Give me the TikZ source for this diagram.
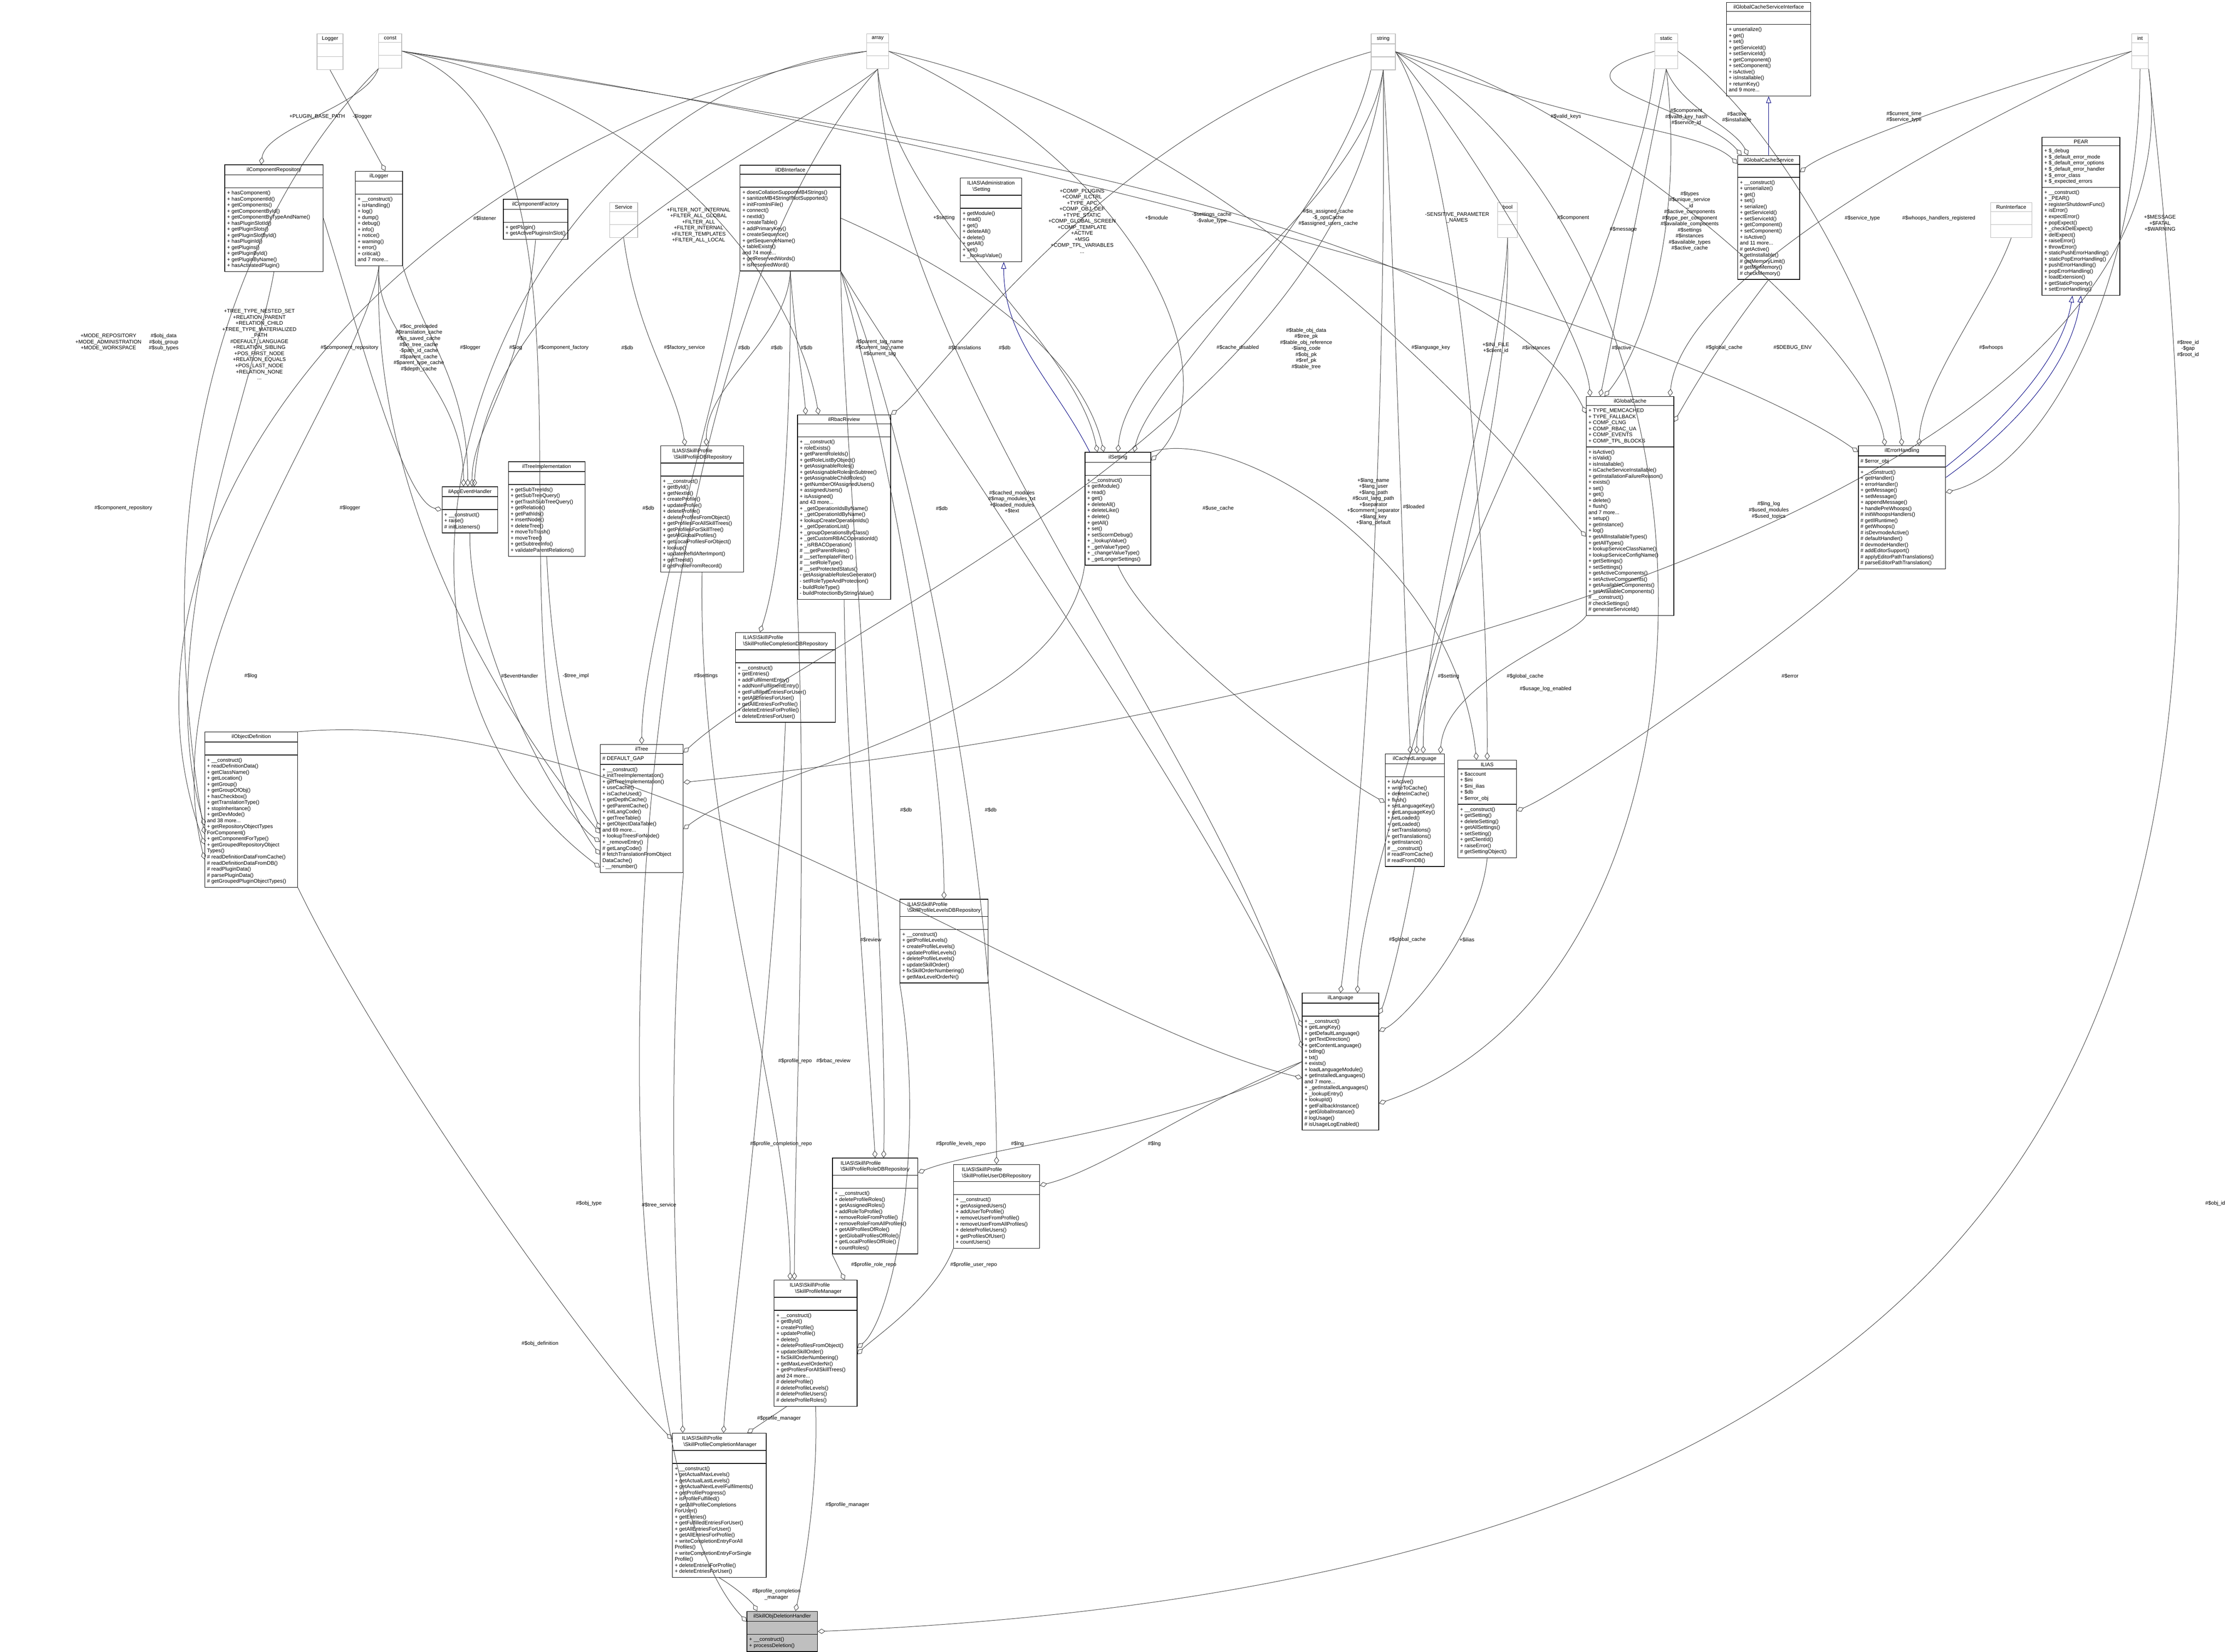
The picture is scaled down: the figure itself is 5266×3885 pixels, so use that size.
\documentclass[tikz,border=0pt]{standalone}
\usepackage{fontspec}
\setmainfont{Liberation Sans}
\usetikzlibrary{arrows.meta,shapes.multipart,calc}

\newcommand{\mlist}[1]{\begin{tabular}{@{}l@{}}#1\end{tabular}}
\newcommand{\dfont}{\fontsize{3.5}{4.05}\selectfont}

\tikzset{
  cls/.style={rectangle split, rectangle split parts=3, draw=black, line width=0.4pt,
              rectangle split part align={center,left,left},
              rectangle split empty part height=4pt, inner sep=1.5pt,
              font=\dfont, anchor=north west, minimum width=#1cm},
  prim/.style={rectangle split, rectangle split parts=3, draw=gray!55,
               rectangle split empty part height=4pt, inner sep=1.5pt,
               font=\dfont, anchor=north west, minimum width=#1cm},
  agg/.style={draw=black!75, line width=0.3pt,
              -{Diamond[open,length=5pt,width=3.4pt]}},
  inh/.style={draw=blue!50!black, line width=0.3pt,
              -{Triangle[open,length=4.5pt,width=3.4pt]}},
  lbl/.style={font=\dfont, align=center, inner sep=0pt}
}

\begin{document}
\begin{tikzpicture}[x=0.01cm,y=-0.01cm]
  \useasboundingbox (0,0) rectangle (5266,3885);

  % plain types
  \node[prim=0.61] (logger)  at (745,79)  {Logger\nodepart{second}\nodepart{third}};
  \node[prim=0.54] (const)   at (890,79)  {const\nodepart{second}\nodepart{third}};
  \node[prim=0.51] (array)   at (2038,79) {array\nodepart{second}\nodepart{third}};
  \node[prim=0.57] (string)  at (3224,79) {string\nodepart{second}\nodepart{third}};
  \node[prim=0.54] (static)  at (3891,79) {static\nodepart{second}\nodepart{third}};
  \node[prim=0.39] (int)     at (5013,79) {int\nodepart{second}\nodepart{third}};
  \node[prim=0.46] (bool)    at (3522,476) {bool\nodepart{second}\nodepart{third}};
  \node[prim=0.66] (service) at (1433,476) {Service\nodepart{second}\nodepart{third}};
  \node[prim=0.97] (runif)   at (4681,476) {RunInterface\nodepart{second}\nodepart{third}};

  % classes
  \node[cls=1.98] (glsvcif) at (4060,5) {ilGlobalCacheServiceInterface\nodepart{second}\nodepart{third}\mlist{+ unserialize()\\+ get()\\+ set()\\+ getServiceId()\\+ setServiceId()\\+ getComponent()\\+ setComponent()\\+ isActive()\\+ isInstallable()\\+ returnKey()\\and 9 more...}};
  \node[cls=1.46] (glsvc) at (4086,365) {ilGlobalCacheService\nodepart{second}\nodepart{third}\mlist{+ \_\_construct()\\+ unserialize()\\+ get()\\+ set()\\+ serialize()\\+ getServiceId()\\+ setServiceId()\\+ getComponent()\\+ setComponent()\\+ isActive()\\and 11 more...\\\# getActive()\\\# getInstallable()\\\# getMemoryLimit()\\\# getMinMemory()\\\# checkMemory()}};
  \node[cls=1.83] (pear) at (4802,322) {PEAR\nodepart{second}\mlist{+ \$\_debug\\+ \$\_default\_error\_mode\\+ \$\_default\_error\_options\\+ \$\_default\_error\_handler\\+ \$\_error\_class\\+ \$\_expected\_errors}\nodepart{third}\mlist{+ \_\_construct()\\+ \_PEAR()\\+ registerShutdownFunc()\\+ isError()\\+ expectError()\\+ popExpect()\\+ \_checkDelExpect()\\+ delExpect()\\+ raiseError()\\+ throwError()\\+ staticPushErrorHandling()\\+ staticPopErrorHandling()\\+ pushErrorHandling()\\+ popErrorHandling()\\+ loadExtension()\\+ getStaticProperty()\\+ setErrorHandling()}};
  \node[cls=2.06] (glcache) at (3730,932) {ilGlobalCache\nodepart{second}\mlist{+ TYPE\_MEMCACHED\\+ TYPE\_FALLBACK\\+ COMP\_CLNG\\+ COMP\_RBAC\_UA\\+ COMP\_EVENTS\\+ COMP\_TPL\_BLOCKS}\nodepart{third}\mlist{+ isActive()\\+ isValid()\\+ isInstallable()\\+ isCacheServiceInstallable()\\+ getInstallationFailureReason()\\+ exists()\\+ set()\\+ get()\\+ delete()\\+ flush()\\and 7 more...\\+ setup()\\+ getInstance()\\+ log()\\+ getAllInstallableTypes()\\+ getAllTypes()\\+ lookupServiceClassName()\\+ lookupServiceConfigName()\\+ getSettings()\\+ setSettings()\\+ getActiveComponents()\\+ setActiveComponents()\\+ getAvailableComponents()\\+ setAvailableComponents()\\\# \_\_construct()\\\# checkSettings()\\\# generateServiceId()}};
  \node[cls=2.05] (errh) at (4370,1048) {ilErrorHandling\nodepart{second}\mlist{\# \$error\_obj}\nodepart{third}\mlist{+ \_\_construct()\\+ getHandler()\\+ errorHandler()\\+ getMessage()\\+ setMessage()\\+ appendMessage()\\+ handlePreWhoops()\\\# initWhoopsHandlers()\\\# getIlRuntime()\\\# getWhoops()\\\# isDevmodeActive()\\\# defaultHandler()\\\# devmodeHandler()\\\# addEditorSupport()\\\# applyEditorPathTranslations()\\\# parseEditorPathTranslation()}};
  \node[cls=2.31] (comprepo) at (528,387) {ilComponentRepository\nodepart{second}\nodepart{third}\mlist{+ hasComponent()\\+ hasComponentId()\\+ getComponents()\\+ getComponentById()\\+ getComponentByTypeAndName()\\+ hasPluginSlotId()\\+ getPluginSlots()\\+ getPluginSlotById()\\+ hasPluginId()\\+ getPlugins()\\+ getPluginById()\\+ getPluginByName()\\+ hasActivatedPlugin()}};
  \node[cls=1.11] (ilogger) at (835,402) {ilLogger\nodepart{second}\nodepart{third}\mlist{+ \_\_construct()\\+ isHandling()\\+ log()\\+ dump()\\+ debug()\\+ info()\\+ notice()\\+ warning()\\+ error()\\+ critical()\\and 7 more...}};
  \node[cls=0.94] (compfact) at (1183,468) {ilComponentFactory\nodepart{second}\nodepart{third}\mlist{+ getPlugin()\\+ getActivePluginsInSlot()}};
  \node[cls=2.36] (dbi) at (1740,388) {ilDBInterface\nodepart{second}\nodepart{third}\mlist{+ doesCollationSupportMB4Strings()\\+ sanitizeMB4StringIfNotSupported()\\+ initFromIniFile()\\+ connect()\\+ nextId()\\+ createTable()\\+ addPrimaryKey()\\+ createSequence()\\+ getSequenceName()\\+ tableExists()\\and 74 more...\\+ getReservedWords()\\+ isReservedWord()}};
  \node[cls=1.44] (admset) at (2258,418) {\mlist{ILIAS\textbackslash Administration\\\quad\textbackslash Setting}\nodepart{second}\nodepart{third}\mlist{+ getModule()\\+ read()\\+ get()\\+ deleteAll()\\+ delete()\\+ getAll()\\+ set()\\+ \_lookupValue()}};
  \node[cls=2.19] (rbac) at (1875,975) {ilRbacReview\nodepart{second}\nodepart{third}\mlist{+ \_\_construct()\\+ roleExists()\\+ getParentRoleIds()\\+ getRoleListByObject()\\+ getAssignableRoles()\\+ getAssignableRolesInSubtree()\\+ getAssignableChildRoles()\\+ getNumberOfAssignedUsers()\\+ assignedUsers()\\+ isAssigned()\\and 43 more...\\+ \_getOperationIdsByName()\\+ \_getOperationIdByName()\\+ lookupCreateOperationIds()\\+ \_getOperationList()\\+ \_groupOperationsByClass()\\+ \_getCustomRBACOperationId()\\+ \_isRBACOperation()\\\# \_\_getParentRoles()\\\# \_\_setTemplateFilter()\\\# \_\_setRoleType()\\\# \_\_setProtectedStatus()\\- getAssignableRolesGenerator()\\- setRoleTypeAndProtection()\\- buildRoleType()\\- buildProtectionByStringValue()}};
  \node[cls=1.55] (setting) at (2551,1063) {ilSetting\nodepart{second}\nodepart{third}\mlist{+ \_\_construct()\\+ getModule()\\+ read()\\+ get()\\+ deleteAll()\\+ deleteLike()\\+ delete()\\+ getAll()\\+ set()\\+ setScormDebug()\\+ \_lookupValue()\\+ \_getValueType()\\+ \_changeValueType()\\+ \_getLongerSettings()}};
  \node[cls=1.31] (appevent) at (1039,1144) {ilAppEventHandler\nodepart{second}\nodepart{third}\mlist{+ \_\_construct()\\+ raise()\\\# initListeners()}};
  \node[cls=1.80] (treeimpl) at (1195,1085) {ilTreeImplementation\nodepart{second}\nodepart{third}\mlist{+ getSubTreeIds()\\+ getSubTreeQuery()\\+ getTrashSubTreeQuery()\\+ getRelation()\\+ getPathIds()\\+ insertNode()\\+ deleteTree()\\+ moveToTrash()\\+ moveTree()\\+ getSubtreeInfo()\\+ validateParentRelations()}};
  \node[cls=1.95] (profrepo) at (1553,1048) {\mlist{ILIAS\textbackslash Skill\textbackslash Profile\\\ \textbackslash SkillProfileDBRepository}\nodepart{second}\nodepart{third}\mlist{+ \_\_construct()\\+ getById()\\+ getNextId()\\+ createProfile()\\+ updateProfile()\\+ deleteProfile()\\+ deleteProfilesFromObject()\\+ getProfilesForAllSkillTrees()\\+ getProfilesForSkillTree()\\+ getAllGlobalProfiles()\\+ getLocalProfilesForObject()\\+ lookup()\\+ updateRefIdAfterImport()\\+ getTreeId()\\\# getProfileFromRecord()}};
  \node[cls=2.35] (complrepo) at (1729,1487) {\mlist{ILIAS\textbackslash Skill\textbackslash Profile\\\textbackslash SkillProfileCompletionDBRepository}\nodepart{second}\nodepart{third}\mlist{+ \_\_construct()\\+ getEntries()\\+ addFulfilmentEntry()\\+ addNonFulfilmentEntry()\\+ getFulfilledEntriesForUser()\\+ getAllEntriesForUser()\\+ getAllEntriesForProfile()\\+ deleteEntriesForProfile()\\+ deleteEntriesForUser()}};
  \node[cls=2.18] (objdef) at (481,1721) {ilObjectDefinition\nodepart{second}\nodepart{third}\mlist{+ \_\_construct()\\+ readDefinitionData()\\+ getClassName()\\+ getLocation()\\+ getGroup()\\+ getGroupOfObj()\\+ hasCheckbox()\\+ getTranslationType()\\+ stopInheritance()\\+ getDevMode()\\and 38 more...\\+ getRepositoryObjectTypes\\ForComponent()\\+ getComponentForType()\\+ getGroupedRepositoryObject\\Types()\\\# readDefinitionDataFromCache()\\\# readDefinitionDataFromDB()\\\# readPluginData()\\\# parsePluginData()\\\# getGroupedPluginObjectTypes()}};
  \node[cls=1.95] (tree) at (1411,1750) {ilTree\nodepart{second}\mlist{\# DEFAULT\_GAP}\nodepart{third}\mlist{+ \_\_construct()\\+ initTreeImplementation()\\+ getTreeImplementation()\\+ useCache()\\+ isCacheUsed()\\+ getDepthCache()\\+ getParentCache()\\+ initLangCode()\\+ getTreeTable()\\+ getObjectDataTable()\\and 69 more...\\+ lookupTreesForNode()\\+ \_removeEntry()\\\# getLangCode()\\\# fetchTranslationFromObject\\DataCache()\\- \_\_renumber()}};
  \node[cls=1.39] (cachedlang) at (3257,1772) {ilCachedLanguage\nodepart{second}\nodepart{third}\mlist{+ isActive()\\+ writeToCache()\\+ deleteInCache()\\+ flush()\\+ setLanguageKey()\\+ getLanguageKey()\\+ setLoaded()\\+ getLoaded()\\+ setTranslations()\\+ getTranslations()\\+ getInstance()\\\# \_\_construct()\\\# readFromCache()\\\# readFromDB()}};
  \node[cls=1.38] (ilias) at (3428,1787) {ILIAS\nodepart{second}\mlist{+ \$account\\+ \$ini\\+ \$ini\_ilias\\+ \$db\\+ \$error\_obj}\nodepart{third}\mlist{+ \_\_construct()\\+ getSetting()\\+ deleteSetting()\\+ getAllSettings()\\+ setSetting()\\+ getClientId()\\+ raiseError()\\\# getSettingObject()}};
  \node[cls=2.07] (levelsrepo) at (2116,2114) {\mlist{ILIAS\textbackslash Skill\textbackslash Profile\\\textbackslash SkillProfileLevelsDBRepository}\nodepart{second}\nodepart{third}\mlist{+ \_\_construct()\\+ getProfileLevels()\\+ createProfileLevels()\\+ updateProfileLevels()\\+ deleteProfileLevels()\\+ updateSkillOrder()\\+ fixSkillOrderNumbering()\\+ getMaxLevelOrderNr()}};
  \node[cls=1.80] (lang) at (3062,2335) {ilLanguage\nodepart{second}\nodepart{third}\mlist{+ \_\_construct()\\+ getLangKey()\\+ getDefaultLanguage()\\+ getTextDirection()\\+ getContentLanguage()\\+ txtlng()\\+ txt()\\+ exists()\\+ loadLanguageModule()\\+ getInstalledLanguages()\\and 7 more...\\+ \_getInstalledLanguages()\\+ \_lookupEntry()\\+ lookupId()\\+ getFallbackInstance()\\+ getGlobalInstance()\\\# logUsage()\\\# isUsageLogEnabled()}};
  \node[cls=2.01] (rolerepo) at (1957,2723) {\mlist{ILIAS\textbackslash Skill\textbackslash Profile\\\textbackslash SkillProfileRoleDBRepository}\nodepart{second}\nodepart{third}\mlist{+ \_\_construct()\\+ deleteProfileRoles()\\+ getAssignedRoles()\\+ addRoleToProfile()\\+ removeRoleFromProfile()\\+ removeRoleFromAllProfiles()\\+ getAllProfilesOfRole()\\+ getGlobalProfilesOfRole()\\+ getLocalProfilesOfRole()\\+ countRoles()}};
  \node[cls=2.02] (userrepo) at (2242,2738) {\mlist{ILIAS\textbackslash Skill\textbackslash Profile\\\textbackslash SkillProfileUserDBRepository}\nodepart{second}\nodepart{third}\mlist{+ \_\_construct()\\+ getAssignedUsers()\\+ addUserToProfile()\\+ removeUserFromProfile()\\+ removeUserFromAllProfiles()\\+ deleteProfileUsers()\\+ getProfilesOfUser()\\+ countUsers()}};
  \node[cls=1.95] (mgr) at (1820,3010) {\mlist{ILIAS\textbackslash Skill\textbackslash Profile\\\quad\textbackslash SkillProfileManager}\nodepart{second}\nodepart{third}\mlist{+ \_\_construct()\\+ getById()\\+ createProfile()\\+ updateProfile()\\+ delete()\\+ deleteProfilesFromObject()\\+ updateSkillOrder()\\+ fixSkillOrderNumbering()\\+ getMaxLevelOrderNr()\\+ getProfilesForAllSkillTrees()\\and 24 more...\\\# deleteProfile()\\\# deleteProfileLevels()\\\# deleteProfileUsers()\\\# deleteProfileRoles()}};
  \node[cls=2.20] (compmgr) at (1581,3370) {\mlist{ILIAS\textbackslash Skill\textbackslash Profile\\\ \textbackslash SkillProfileCompletionManager}\nodepart{second}\nodepart{third}\mlist{+ \_\_construct()\\+ getActualMaxLevels()\\+ getActualLastLevels()\\+ getActualNextLevelFulfilments()\\+ getProfileProgress()\\+ isProfileFulfilled()\\+ getAllProfileCompletions\\ForUser()\\+ getEntries()\\+ getFulfilledEntriesForUser()\\+ getAllEntriesForUser()\\+ getAllEntriesForProfile()\\+ writeCompletionEntryForAll\\Profiles()\\+ writeCompletionEntryForSingle\\Profile()\\+ deleteEntriesForProfile()\\+ deleteEntriesForUser()}};
  \node[cls=1.66, fill=gray!50] (handler) at (1756,3789) {ilSkillObjDeletionHandler\nodepart{second}\nodepart{third}\mlist{+ \_\_construct()\\+ processDeletion()}};

  % inheritance
  \draw[inh] (glsvc.north) -- (glsvcif.south);
  \draw[inh] ($(errh.north east)+(0,50)$) .. controls (4700,1000) and (4850,850) .. ($(pear.south)+(-20,0)$);
  \draw[inh] ($(errh.north east)+(0,75)$) .. controls (4720,1020) and (4870,870) .. ($(pear.south)+(0,0)$);
  \draw[inh] ($(setting.north west)+(12,0)$) .. controls (2480,900) and (2360,800) .. ($(admset.south)+(30,0)$);

  % aggregation, top types
  \draw[agg] (logger.south) -- ($(ilogger.north)+(15,0)$);
  \draw[agg] (const.south west) .. controls (860,250) and (625,300) .. ($(comprepo.north)+(-30,0)$);
  \draw[agg] (const.south west) .. controls (700,350) and (300,900) .. ($(objdef.north west)+(0,240)$);
  \draw[agg] (array.west) .. controls (1000,300) and (200,1200) .. ($(objdef.north west)+(0,265)$);
  \draw[agg] (const.east) .. controls (1500,300) and (1100,1600) .. ($(tree.north west)+(0,260)$);
  \draw[agg] (array.west) .. controls (1200,200) and (700,1500) .. ($(tree.north west)+(0,290)$);
  \draw[agg] (array.south) .. controls (1900,300) and (1150,600) .. ($(appevent.north)+(10,0)$);
  \draw[agg] (const.east) .. controls (1600,250) and (1880,700) .. ($(rbac.north)+(-60,0)$);
  \draw[agg] (string.west) .. controls (2600,300) and (2200,900) .. (rbac.north east);
  \draw[agg] (array.south) .. controls (2100,500) and (2530,800) .. ($(setting.north west)+(30,0)$);
  \draw[agg] (string.south) .. controls (3200,500) and (2650,800) .. ($(setting.north)+(0,0)$);
  \draw[agg] (string.south west) .. controls (3150,500) and (2700,900) .. ($(setting.north east)+(-40,0)$);
  \draw[agg] (array.east) .. controls (2700,400) and (2900,900) .. ($(setting.north east)+(0,20)$);
  \draw[agg] (const.east) .. controls (2000,300) and (3500,500) .. ($(glcache.north west)+(0,40)$);
  \draw[agg] (array.east) .. controls (2900,300) and (3500,1000) .. ($(glcache.north west)+(0,330)$);
  \draw[agg] (string.south) .. controls (3260,900) and (3220,1800) .. ($(lang.north)+(0,0)$);
  \draw[agg] (string.east) .. controls (4110,600) and (4110,2300) .. ($(lang.north east)+(0,260)$);
  \draw[agg] (array.south) .. controls (2100,900) and (2900,1800) .. ($(lang.north west)+(0,130)$);
  \draw[agg] (string.south) .. controls (3280,600) and (3300,1400) .. ($(cachedlang.north)+(-10,0)$);
  \draw[agg] (static.south west) .. controls (3850,600) and (3330,1400) .. ($(cachedlang.north)+(5,0)$);
  \draw[agg] (bool.south) .. controls (3530,900) and (3350,1400) .. ($(cachedlang.north)+(20,0)$);
  \draw[agg] (bool.south) .. controls (3560,1200) and (3200,2000) .. ($(lang.north)+(40,0)$);
  \draw[agg] (string.east) .. controls (3450,400) and (3500,1400) .. (ilias.north);
  \draw[agg] (string.south) .. controls (3150,1000) and (1900,1500) .. ($(tree.north east)+(0,20)$);
  \draw[agg] (string.east) .. controls (3700,300) and (4000,300) .. ($(glsvc.north west)+(0,20)$);
  \draw[agg] (static.west) .. controls (3600,200) and (4000,250) .. ($(glsvc.north west)+(10,0)$);
  \draw[agg] (static.south) .. controls (3950,250) and (4080,300) .. ($(glsvc.north west)+(25,0)$);
  \draw[agg] (int.west) .. controls (4700,200) and (4300,350) .. ($(glsvc.north east)+(0,40)$);
  \draw[agg] (static.south) -- ($(glcache.north)+(-70,0)$);
  \draw[agg] (static.south) .. controls (3960,500) and (3880,800) .. ($(glcache.north)+(-60,0)$);
  \draw[agg] (string.east) .. controls (3500,400) and (3730,800) .. ($(glcache.north west)+(10,0)$);
  \draw[agg] (glsvc.south) .. controls (4050,800) and (3990,900) .. ($(glcache.north east)+(0,60)$);
  \draw[agg] (int.west) .. controls (4400,400) and (3950,700) .. ($(glcache.north east)+(-10,0)$);
  \draw[agg] (string.east) .. controls (3700,200) and (4400,800) .. ($(errh.north)+(-40,0)$);
  \draw[agg] (static.east) .. controls (4200,300) and (4450,800) .. ($(errh.north)+(0,0)$);
  \draw[agg] (runif.south) .. controls (4680,700) and (4520,900) .. ($(errh.north)+(40,0)$);
  \draw[agg] (const.east) .. controls (2500,350) and (4000,800) .. ($(errh.north west)+(0,15)$);
  \draw[agg] (int.south) .. controls (5030,700) and (4800,1100) .. ($(errh.north east)+(0,110)$);
  \draw[agg] (int.south east) .. controls (5200,1200) and (3000,1700) .. ($(tree.north east)+(0,90)$);
  \draw[agg] (int.south east) .. controls (5260,2000) and (5230,3700) .. (handler.east);
  \draw[agg] (array.south) .. controls (1400,900) and (1370,3400) .. ($(handler.north west)+(0,25)$);

  % aggregation, classes
  \draw[agg] (comprepo.south) .. controls (600,900) and (350,1500) .. ($(objdef.north west)+(0,220)$);
  \draw[agg] (comprepo.east) .. controls (850,800) and (950,1180) .. (appevent.west);
  \draw[agg] (ilogger.south) .. controls (850,900) and (350,1500) .. ($(objdef.north west)+(0,300)$);
  \draw[agg] (ilogger.south) .. controls (880,800) and (1090,900) .. ($(appevent.north)+(-15,0)$);
  \draw[agg] (ilogger.south east) .. controls (1000,800) and (1100,900) .. ($(appevent.north)+(-5,0)$);
  \draw[agg] (compfact.south) .. controls (1230,900) and (1110,1000) .. ($(appevent.north)+(5,0)$);
  \draw[agg] (ilogger.south) .. controls (870,1200) and (1200,1700) .. ($(tree.north west)+(0,210)$);
  \draw[agg] (appevent.south) .. controls (1100,1500) and (1300,1900) .. ($(tree.north west)+(0,230)$);
  \draw[agg] (treeimpl.south) .. controls (1300,1600) and (1350,1800) .. ($(tree.north west)+(0,200)$);
  \draw[agg] (dbi.south west) .. controls (1700,900) and (1510,1500) .. ($(tree.north)+(0,0)$);
  \draw[agg] (setting.south west) .. controls (2500,1700) and (1800,1800) .. ($(tree.north east)+(0,200)$);
  \draw[agg] (service.south) .. controls (1500,800) and (1590,900) .. ($(profrepo.north)+(-40,0)$);
  \draw[agg] (dbi.south) .. controls (1850,800) and (1660,900) .. ($(profrepo.north)+(10,0)$);
  \draw[agg] (dbi.south) .. controls (1870,800) and (1890,900) .. ($(rbac.north west)+(20,0)$);
  \draw[agg] (dbi.south) .. controls (1860,900) and (1850,1300) .. ($(complrepo.north)+(-60,0)$);
  \draw[agg] (dbi.south east) .. controls (2050,900) and (2220,1700) .. ($(levelsrepo.north)+(0,0)$);
  \draw[agg] (dbi.south east) .. controls (2100,900) and (2340,1900) .. ($(userrepo.north)+(0,0)$);
  \draw[agg] (dbi.south east) .. controls (1980,1000) and (2090,2200) .. ($(rolerepo.north)+(20,0)$);
  \draw[agg] (dbi.east) .. controls (2400,700) and (2560,900) .. ($(setting.north west)+(45,0)$);
  \draw[agg] (dbi.south east) .. controls (2200,1000) and (2900,2000) .. ($(lang.north west)+(0,80)$);
  \draw[agg] (objdef.north east) .. controls (1500,1650) and (2500,2400) .. ($(lang.north west)+(0,200)$);
  \draw[agg] (rbac.south) .. controls (1990,1800) and (2040,2400) .. ($(rolerepo.north)+(0,0)$);
  \draw[agg] (setting.south) .. controls (2700,1500) and (3100,1800) .. ($(cachedlang.north west)+(0,115)$);
  \draw[agg] (setting.north east) .. controls (2900,1000) and (3420,1300) .. ($(ilias.north)+(-25,0)$);
  \draw[agg] (glcache.south west) .. controls (3700,1500) and (3400,1600) .. ($(cachedlang.north east)+(-10,0)$);
  \draw[agg] (errh.south west) .. controls (4200,1500) and (3700,1850) .. ($(ilias.north east)+(0,120)$);
  \draw[agg] (cachedlang.south) .. controls (3300,2200) and (3260,2350) .. ($(lang.north east)+(0,50)$);
  \draw[agg] (ilias.south) .. controls (3480,2200) and (3300,2400) .. ($(lang.north east)+(0,90)$);
  \draw[agg] (lang.west) .. controls (2800,2650) and (2300,2700) .. ($(rolerepo.north east)+(0,35)$);
  \draw[agg] (lang.west) .. controls (2800,2600) and (2600,2750) .. ($(userrepo.north east)+(0,50)$);
  \draw[agg] (profrepo.south) .. controls (1640,2000) and (1860,2600) .. ($(mgr.north)+(-60,0)$);
  \draw[agg] (rbac.south west) .. controls (1900,2000) and (1870,2600) .. ($(mgr.north)+(-50,0)$);
  \draw[agg] (rolerepo.south west) -- ($(mgr.north east)+(-30,0)$);
  \draw[agg] (levelsrepo.south west) .. controls (2180,2700) and (2100,3100) .. ($(mgr.north east)+(0,160)$);
  \draw[agg] (userrepo.south west) .. controls (2200,3050) and (2050,3150) .. ($(mgr.north east)+(0,175)$);
  \draw[agg] (tree.south east) .. controls (1560,2600) and (1600,3200) .. ($(compmgr.north west)+(25,0)$);
  \draw[agg] (complrepo.south) .. controls (1820,2400) and (1710,3200) .. ($(compmgr.north)+(10,0)$);
  \draw[agg] ($(mgr.south west)+(30,0)$) -- ($(compmgr.north east)+(-45,0)$);
  \draw[agg] (objdef.south east) .. controls (900,2500) and (1400,3200) .. ($(compmgr.north west)+(0,15)$);
  \draw[agg] (compmgr.south) .. controls (1740,3740) and (1770,3770) .. ($(handler.north west)+(25,0)$);
  \draw[agg] (mgr.south) .. controls (1925,3500) and (1890,3700) .. ($(handler.north west)+(115,0)$);

  % labels
  \node[lbl] (l01) at (255,805)  {+MODE\_REPOSITORY\\+MODE\_ADMINISTRATION\\+MODE\_WORKSPACE};
  \node[lbl] (l03) at (385,805)  {\#\$obj\_data\\\#\$obj\_group\\\#\$sub\_types};
  \node[lbl] (l04) at (610,810)  {+TREE\_TYPE\_NESTED\_SET\\+RELATION\_PARENT\\+RELATION\_CHILD\\+TREE\_TYPE\_MATERIALIZED\\\_PATH\\\#DEFAULT\_LANGUAGE\\+RELATION\_SIBLING\\+POS\_FIRST\_NODE\\+RELATION\_EQUALS\\+POS\_LAST\_NODE\\+RELATION\_NONE\\...};
  \node[lbl] (l05) at (746,274)  {+PLUGIN\_BASE\_PATH};
  \node[lbl] (l06) at (852,274)  {-\$logger};
  \node[lbl] (l07) at (822,818)  {\#\$component\_repository};
  \node[lbl] (l08) at (985,818)  {\#\$oc\_preloaded\\\#\$translation\_cache\\\#\$is\_saved\_cache\\\#\$in\_tree\_cache\\-\$path\_id\_cache\\\#\$parent\_cache\\\#\$parent\_type\_cache\\\#\$depth\_cache};
  \node[lbl] (l09) at (1106,818) {\#\$logger};
  \node[lbl] (l10) at (1213,818) {\#\$log};
  \node[lbl] (l11) at (1325,818) {\#\$component\_factory};
  \node[lbl] (l12) at (1140,513) {\#\$listener};
  \node[lbl] (l13) at (1475,818) {\#\$db};
  \node[lbl] (l14) at (1610,818) {\#\$factory\_service};
  \node[lbl] (l15) at (1643,530) {+FILTER\_NOT\_INTERNAL\\+FILTER\_ALL\_GLOBAL\\+FILTER\_ALL\\+FILTER\_INTERNAL\\+FILTER\_TEMPLATES\\+FILTER\_ALL\_LOCAL};
  \node[lbl] (l16) at (1750,818) {\#\$db};
  \node[lbl] (l17) at (1827,818) {\#\$db};
  \node[lbl] (l18) at (1897,818) {\#\$db};
  \node[lbl] (l19) at (2069,818) {\#\$parent\_tag\_name\\\#\$current\_tag\_name\\\#\$current\_tag};
  \node[lbl] (l20) at (2269,818) {\#\$translations};
  \node[lbl] (l21) at (2363,818) {\#\$db};
  \node[lbl] (l22) at (2220,512) {+\$setting};
  \node[lbl] (l23) at (2545,520) {+COMP\_PLUGINS\\+COMP\_ILCTRL\\+TYPE\_APC\\+COMP\_OBJ\_DEF\\+TYPE\_STATIC\\+COMP\_GLOBAL\_SCREEN\\+COMP\_TEMPLATE\\+ACTIVE\\+MSG\\+COMP\_TPL\_VARIABLES\\...};
  \node[lbl] (l24) at (2720,512) {+\$module};
  \node[lbl] (l25) at (2850,512) {-\$settings\_cache\\-\$value\_type};
  \node[lbl] (l26) at (3124,512) {\#\$is\_assigned\_cache\\-\$\_opsCache\\\#\$assigned\_users\_cache};
  \node[lbl] (l27) at (3427,512) {-SENSITIVE\_PARAMETER\\\_NAMES};
  \node[lbl] (l28) at (3700,512) {\#\$component};
  \node[lbl] (l29) at (3818,540) {\#\$message};
  \node[lbl] (l30) at (3683,274) {\#\$valid\_keys};
  \node[lbl] (l31) at (3966,275) {\#\$component\\\#\$valid\_key\_hash\\\#\$service\_id};
  \node[lbl] (l32) at (4085,275) {\#\$active\\\#\$installable};
  \node[lbl] (l33) at (3974,520) {\#\$types\\\#\$unique\_service\\\_id\\\#\$active\_components\\\#\$type\_per\_component\\\#\$available\_components\\\#\$settings\\\#\$instances\\\#\$available\_types\\\#\$active\_cache};
  \node[lbl] (l34) at (4478,275) {\#\$current\_time\\\#\$service\_type};
  \node[lbl] (l35) at (4380,513) {\#\$service\_type};
  \node[lbl] (l36) at (4560,513) {\#\$whoops\_handlers\_registered};
  \node[lbl] (l37) at (5080,525) {+\$MESSAGE\\+\$FATAL\\+\$WARNING};
  \node[lbl] (l38) at (3814,818) {\#\$active};
  \node[lbl] (l39) at (4055,818) {\#\$global\_cache};
  \node[lbl] (l40) at (4216,818) {\#\$DEBUG\_ENV};
  \node[lbl] (l41) at (4683,818) {\#\$whoops};
  \node[lbl] (l42) at (5146,820) {\#\$tree\_id\\-\$gap\\\#\$root\_id};
  \node[lbl] (l43) at (2911,818) {\#\$cache\_disabled};
  \node[lbl] (l44) at (3072,820) {\#\$table\_obj\_data\\\#\$tree\_pk\\\#\$table\_obj\_reference\\-\$lang\_code\\\#\$obj\_pk\\\#\$ref\_pk\\\#\$table\_tree};
  \node[lbl] (l45) at (3365,818) {\#\$language\_key};
  \node[lbl] (l46) at (3518,818) {+\$INI\_FILE\\+\$client\_id};
  \node[lbl] (l47) at (3613,818) {\#\$instances};
  \node[lbl] (l48) at (2215,1196) {\#\$db};
  \node[lbl] (l49) at (2380,1180) {\#\$cached\_modules\\\#\$map\_modules\_txt\\+\$loaded\_modules\\+\$text};
  \node[lbl] (l50) at (2865,1196) {\#\$use\_cache};
  \node[lbl] (l51) at (3230,1180) {+\$lang\_name\\+\$lang\_user\\+\$lang\_path\\\#\$cust\_lang\_path\\+\$separator\\+\$comment\_separator\\+\$lang\_key\\+\$lang\_default};
  \node[lbl] (l52) at (3325,1192) {\#\$loaded};
  \node[lbl] (l53) at (4160,1200) {\#\$lng\_log\\\#\$used\_modules\\\#\$used\_topics};
  \node[lbl] (l54) at (290,1195) {\#\$component\_repository};
  \node[lbl] (l55) at (823,1195) {\#\$logger};
  \node[lbl] (l56) at (1525,1195) {\#\$db};
  \node[lbl] (l57) at (590,1590) {\#\$log};
  \node[lbl] (l58) at (1222,1590) {\#\$eventHandler};
  \node[lbl] (l59) at (1354,1590) {-\$tree\_impl};
  \node[lbl] (l60) at (1660,1590) {\#\$settings};
  \node[lbl] (l61) at (3407,1591) {\#\$setting};
  \node[lbl] (l62) at (3587,1591) {\#\$global\_cache};
  \node[lbl] (l63) at (3635,1620) {\#\$usage\_log\_enabled};
  \node[lbl] (l64) at (4210,1590) {\#\$error};
  \node[lbl] (l65) at (2131,1905) {\#\$db};
  \node[lbl] (l66) at (2330,1905) {\#\$db};
  \node[lbl] (l67) at (2048,2210) {\#\$review};
  \node[lbl] (l68) at (3310,2210) {\#\$global\_cache};
  \node[lbl] (l69) at (3450,2210) {+\$ilias};
  \node[lbl] (l70) at (1870,2495) {\#\$profile\_repo};
  \node[lbl] (l71) at (1960,2495) {\#\$rbac\_review};
  \node[lbl] (l72) at (1837,2690) {\#\$profile\_completion\_repo};
  \node[lbl] (l73) at (2260,2690) {\#\$profile\_levels\_repo};
  \node[lbl] (l74) at (2393,2690) {\#\$lng};
  \node[lbl] (l75) at (2715,2690) {\#\$lng};
  \node[lbl] (l76) at (1550,2835) {\#\$tree\_service};
  \node[lbl] (l77) at (1385,2830) {\#\$obj\_type};
  \node[lbl] (l78) at (5210,2830) {\#\$obj\_id};
  \node[lbl] (l79) at (2055,2975) {\#\$profile\_role\_repo};
  \node[lbl] (l80) at (2290,2975) {\#\$profile\_user\_repo};
  \node[lbl] (l81) at (1270,3160) {\#\$obj\_definition};
  \node[lbl] (l82) at (1832,3336) {\#\$profile\_manager};
  \node[lbl] (l83) at (1993,3539) {\#\$profile\_manager};
  \node[lbl] (l84) at (1826,3750) {\#\$profile\_completion\\\_manager};
\end{tikzpicture}
\end{document}
